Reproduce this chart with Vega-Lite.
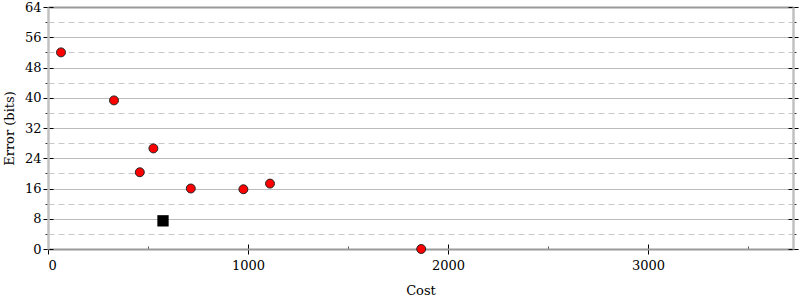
{
  "$schema": "https://vega.github.io/schema/vega-lite/v6.json",
  "autosize": "none",
  "width": 745,
  "height": 242,
  "padding": {"left": 48, "top": 7, "right": 7, "bottom": 51},
  "background": "white",
  "config": {
    "view": {"stroke": null},
    "axis": {
      "labelFont": "DejaVu Serif, serif",
      "labelFontSize": 13,
      "labelColor": "black",
      "titleFont": "DejaVu Serif, serif",
      "titleFontSize": 13,
      "titleFontWeight": "normal",
      "titleColor": "black",
      "tickColor": "black",
      "gridColor": "#bbbbbb"
    }
  },
  "data": {
    "values": [
      {"kind": "circle", "cost": 65, "error": 52.0},
      {"kind": "circle", "cost": 330, "error": 39.3},
      {"kind": "circle", "cost": 527, "error": 26.6},
      {"kind": "circle", "cost": 459, "error": 20.3},
      {"kind": "circle", "cost": 714, "error": 16.0},
      {"kind": "circle", "cost": 977, "error": 15.8},
      {"kind": "circle", "cost": 1110, "error": 17.3},
      {"kind": "circle", "cost": 1866, "error": 0},
      {"kind": "square", "cost": 575, "error": 7.45}
    ]
  },
  "resolve": {"axis": {"x": "independent", "y": "independent"}},
  "layer": [
    {
      "transform": [{"filter": "datum.kind === 'circle'"}],
      "mark": {"type": "point", "opacity": 0},
      "encoding": {
        "x": {"field": "cost", "type": "quantitative", "scale": {"domain": [0, 3725], "nice": false, "zero": false},
              "axis": {"orient": "bottom", "values": [500, 1500, 2500, 3500], "labels": false, "domain": false, "tickSize": -3, "tickColor": "#555", "title": null, "grid": false}},
        "y": {"field": "error", "type": "quantitative", "scale": {"domain": [0, 64], "nice": false, "zero": false},
              "axis": {"orient": "left", "values": [4, 12, 20, 28, 36, 44, 52, 60], "labels": false, "domain": false, "tickSize": 3, "tickColor": "#333", "title": null, "grid": true, "gridDash": [6, 4], "gridColor": "#c8c8c8"}}
      }
    },
    {
      "transform": [{"filter": "datum.kind === 'circle'"}],
      "mark": {"type": "point", "opacity": 0},
      "encoding": {
        "x": {"field": "cost", "type": "quantitative",
              "axis": {"orient": "top", "labels": false, "ticks": false, "domain": true, "domainColor": "#999999", "domainWidth": 2, "title": null, "grid": false}},
        "y": {"field": "error", "type": "quantitative",
              "axis": {"orient": "right", "values": [4, 12, 20, 28, 36, 44, 52, 60], "labels": false, "domain": false, "tickSize": 3, "tickColor": "#333", "title": null, "grid": false}}
      }
    },
    {
      "transform": [{"filter": "datum.kind === 'circle'"}],
      "mark": {"type": "point", "opacity": 0},
      "encoding": {
        "x": {"field": "cost", "type": "quantitative",
              "axis": {"orient": "bottom", "values": [0, 1000, 2000, 3000], "labels": false, "domain": false, "tickSize": -5, "title": null, "grid": false}},
        "y": {"field": "error", "type": "quantitative",
              "axis": {"orient": "right", "values": [0, 8, 16, 24, 32, 40, 48, 56, 64], "labels": false, "domain": false, "tickSize": -5, "title": null, "grid": false}}
      }
    },
    {
      "transform": [{"filter": "datum.kind === 'square'"}],
      "mark": {"type": "square", "size": 128, "filled": true, "color": "black", "opacity": 1},
      "encoding": {
        "x": {"field": "cost", "type": "quantitative",
              "axis": {"orient": "top", "labels": false, "ticks": false, "domain": false, "title": null, "grid": false}},
        "y": {"field": "error", "type": "quantitative",
              "axis": {"orient": "left", "values": [0, 8, 16, 24, 32, 40, 48, 56, 64], "labels": false, "domain": false, "tickSize": -5, "title": null, "grid": false}}
      }
    },
    {
      "transform": [{"filter": "datum.kind === 'circle'"}],
      "mark": {"type": "point", "opacity": 0},
      "encoding": {
        "x": {"field": "cost", "type": "quantitative",
              "axis": {"orient": "top", "labels": false, "ticks": false, "domain": false, "title": null, "grid": false}},
        "y": {"field": "error", "type": "quantitative",
              "axis": {"orient": "right", "values": [0, 8, 16, 24, 32, 40, 48, 56, 64], "labels": false, "domain": true, "domainColor": "#c0c0c0", "domainWidth": 2.5, "tickSize": 5, "title": null, "grid": false}}
      }
    },
    {
      "transform": [{"filter": "datum.kind === 'circle'"}],
      "mark": {"type": "circle", "size": 80, "color": "#ff0000", "opacity": 1, "stroke": "#222222", "strokeWidth": 1},
      "encoding": {
        "x": {"field": "cost", "type": "quantitative",
              "axis": {"orient": "bottom", "values": [0, 1000, 2000, 3000], "format": "d", "labels": true, "labelPadding": 5, "domain": true, "domainColor": "#999999", "domainWidth": 2, "tickSize": 5, "title": "Cost", "titlePadding": 12, "grid": false}},
        "y": {"field": "error", "type": "quantitative",
              "axis": {"orient": "left", "values": [0, 8, 16, 24, 32, 40, 48, 56, 64], "labels": true, "labelPadding": 2, "domain": true, "domainColor": "#c0c0c0", "domainWidth": 2.5, "tickSize": 5, "title": "Error (bits)", "titlePadding": 8, "grid": true, "gridColor": "#bbbbbb"}}
      }
    }
  ]
}
